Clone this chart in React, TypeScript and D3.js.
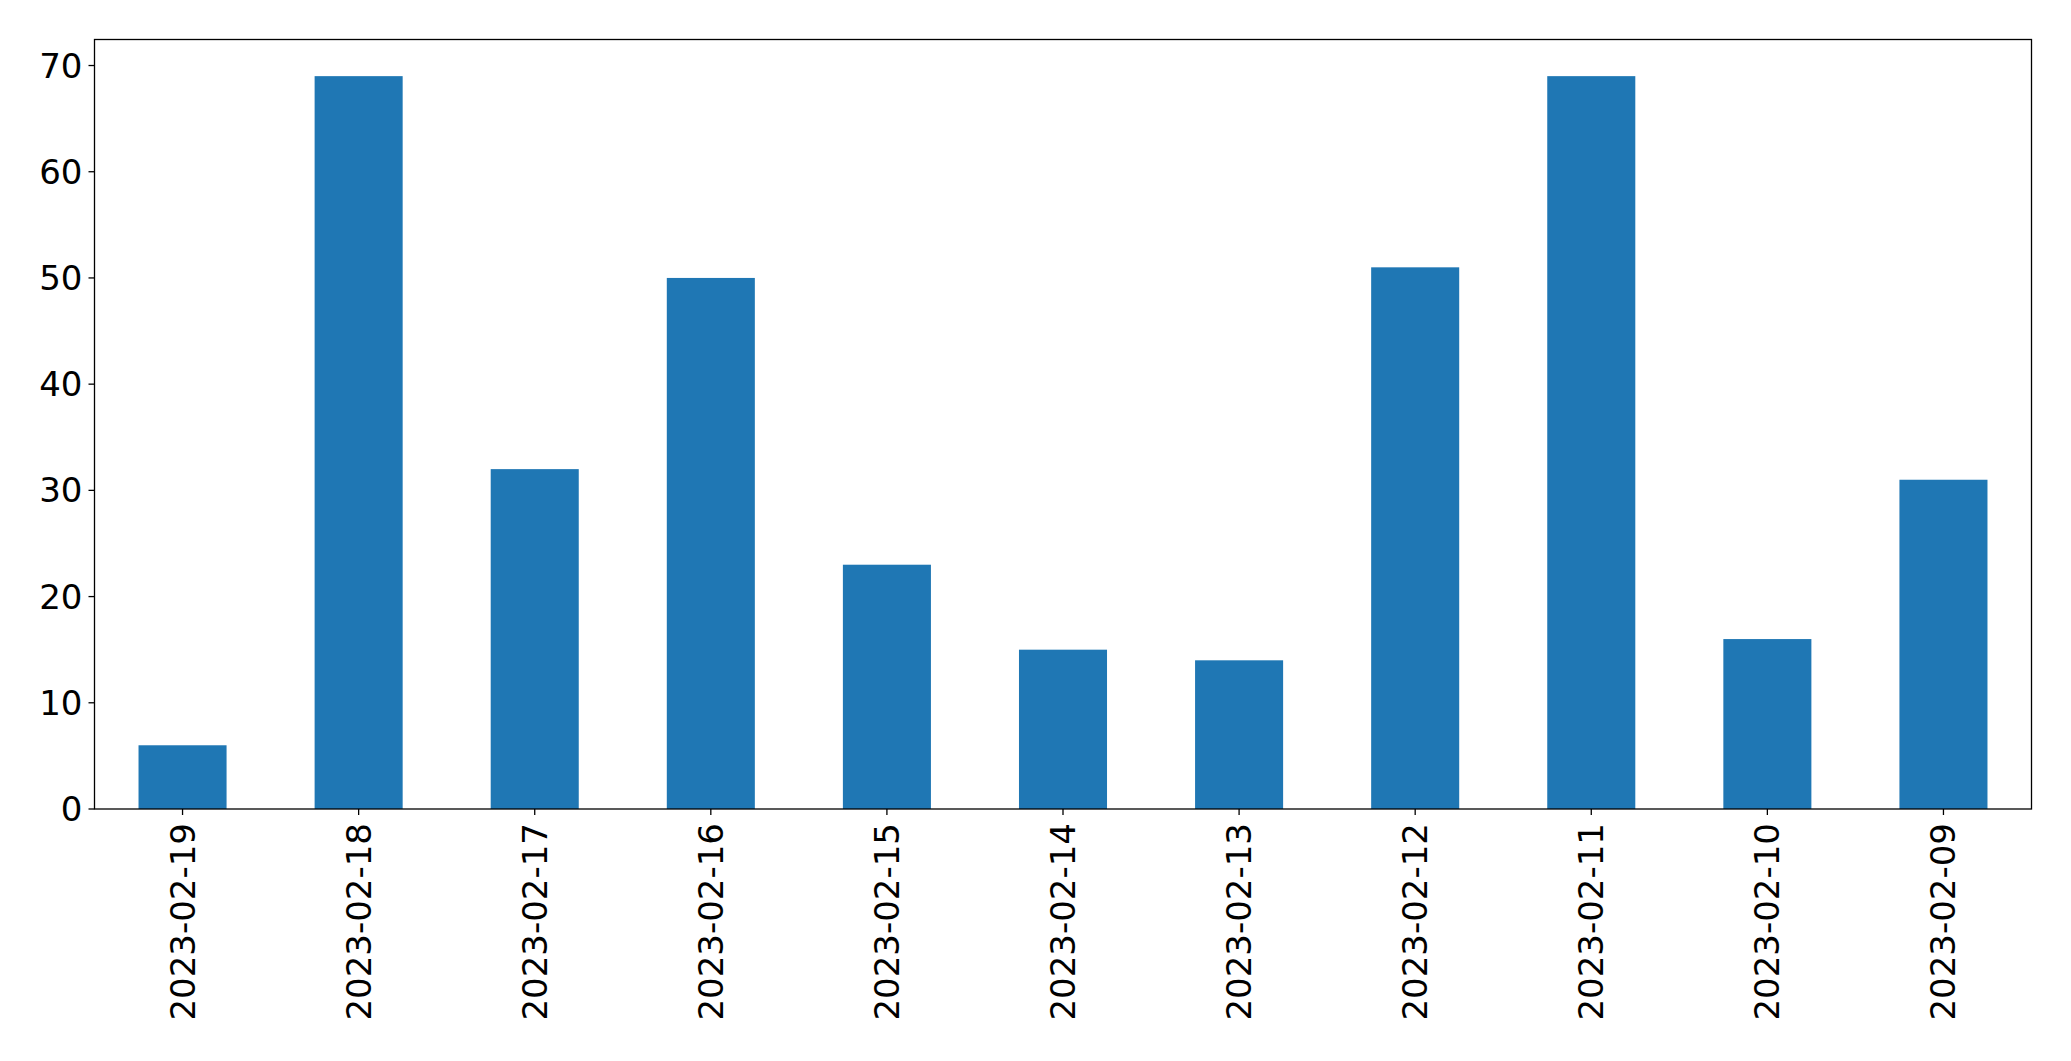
import React from "react";
import * as d3 from "d3";

const categories = ["2023-02-19","2023-02-18","2023-02-17","2023-02-16","2023-02-15","2023-02-14","2023-02-13","2023-02-12","2023-02-11","2023-02-10","2023-02-09"];
const values = [6, 69, 32, 50, 23, 15, 14, 51, 69, 16, 31];
const yTicks = [0, 10, 20, 30, 40, 50, 60, 70];

const W = 2071, H = 1061;
const left = 94.5, right = 2031.5, top = 39.5, bottom = 809;

export default function App() {
  const x = d3.scaleLinear().domain([-0.5, categories.length - 0.5]).range([left, right]);
  const yMax = (d3.max(values) as number) * 1.05;
  const y = d3.scaleLinear().domain([0, yMax]).range([bottom, top]);
  const bw = (x(0.5) - x(0)) ;
  const font = "'DejaVu Sans', sans-serif";
  return (
    <svg width={W} height={H} style={{ position: "absolute", left: 0, top: 0, background: "#fff" }}>
      <rect x={0} y={0} width={W} height={H} fill="#fff" />
      {values.map((v, i) => (
        <rect key={i} x={x(i) - bw / 2} y={y(v)} width={bw} height={y(0) - y(v)} fill="#1f77b4" />
      ))}
      <rect x={left} y={top} width={right - left} height={bottom - top} fill="none" stroke="#000" strokeWidth={1.3} />
      {yTicks.map((t) => (
        <g key={t}>
          <line x1={left - 6} x2={left} y1={y(t)} y2={y(t)} stroke="#000" strokeWidth={1.3} />
          <text x={left - 12} y={y(t)} textAnchor="end" dominantBaseline="central" fontFamily={font} fontSize={34} fill="#000">{t}</text>
        </g>
      ))}
      {categories.map((c, i) => (
        <g key={c}>
          <line x1={x(i)} x2={x(i)} y1={bottom} y2={bottom + 6} stroke="#000" strokeWidth={1.3} />
          <text transform={`translate(${x(i)},${bottom + 14}) rotate(-90)`} textAnchor="end" dominantBaseline="central" fontFamily={font} fontSize={34} fill="#000">{c}</text>
        </g>
      ))}
    </svg>
  );
}
